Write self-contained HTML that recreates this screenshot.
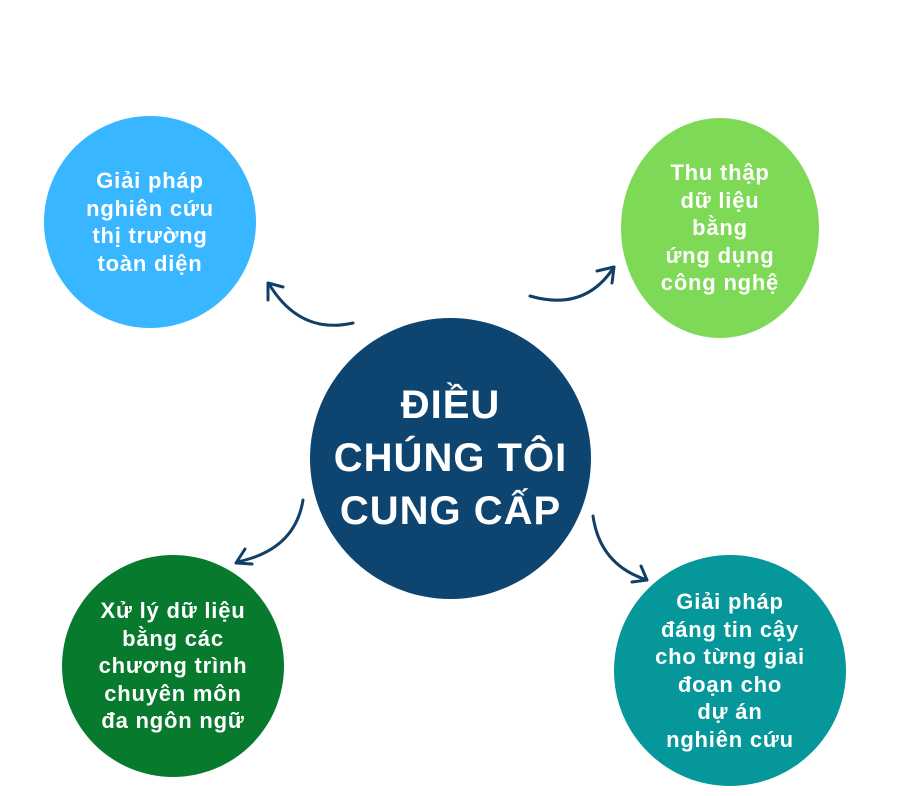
<!DOCTYPE html>
<html><head><meta charset="utf-8"><style>
html,body{margin:0;padding:0;background:#fff;width:914px;height:796px;overflow:hidden}
.c{position:absolute;border-radius:50%;display:flex;align-items:center;justify-content:center;text-align:center;color:#fff;font-family:"Liberation Sans",sans-serif;font-weight:bold}
.s{font-size:22px;line-height:27.5px;letter-spacing:0.8px}
</style></head><body>
<div class="c s" style="left:44px;top:116px;width:212px;height:212px;background:#38b6ff">Giải pháp<br>nghiên cứu<br>thị trường<br>toàn diện</div>
<div class="c s" style="left:621px;top:118px;width:198px;height:220px;background:#7ed957;border-radius:50%">Thu thập<br>dữ liệu<br>bằng<br>ứng dụng<br>công nghệ</div>
<div class="c" style="left:310px;top:318px;width:281px;height:281px;background:#0e4470;font-size:40px;line-height:53px;letter-spacing:1px">ĐIỀU<br>CHÚNG TÔI<br>CUNG CẤP</div>
<div class="c s" style="left:62px;top:555px;width:222px;height:222px;background:#077a2e">Xử lý dữ liệu<br>bằng các<br>chương trình<br>chuyên môn<br>đa ngôn ngữ</div>
<div class="c s" style="left:614px;top:555px;width:232px;height:231px;background:#05979a">Giải pháp<br>đáng tin cậy<br>cho từng giai<br>đoạn cho<br>dự án<br>nghiên cứu</div>
<svg width="914" height="796" style="position:absolute;left:0;top:0" fill="none" stroke="#123f66" stroke-width="3" stroke-linecap="round" stroke-linejoin="round">
<path d="M353 323 Q300 335 269 284"/><path d="M268 300 L268 283 L283 287"/>
<path d="M530 296 Q585 312 614 267"/><path d="M597 271 L614 267 L612 283"/>
<path d="M303 500 Q295 550 237 562"/><path d="M245 549 L236 563 L252 564"/>
<path d="M593 516 Q600 565 647 580"/><path d="M632 582 L647 580 L641 566"/>
</svg>
</body></html>
